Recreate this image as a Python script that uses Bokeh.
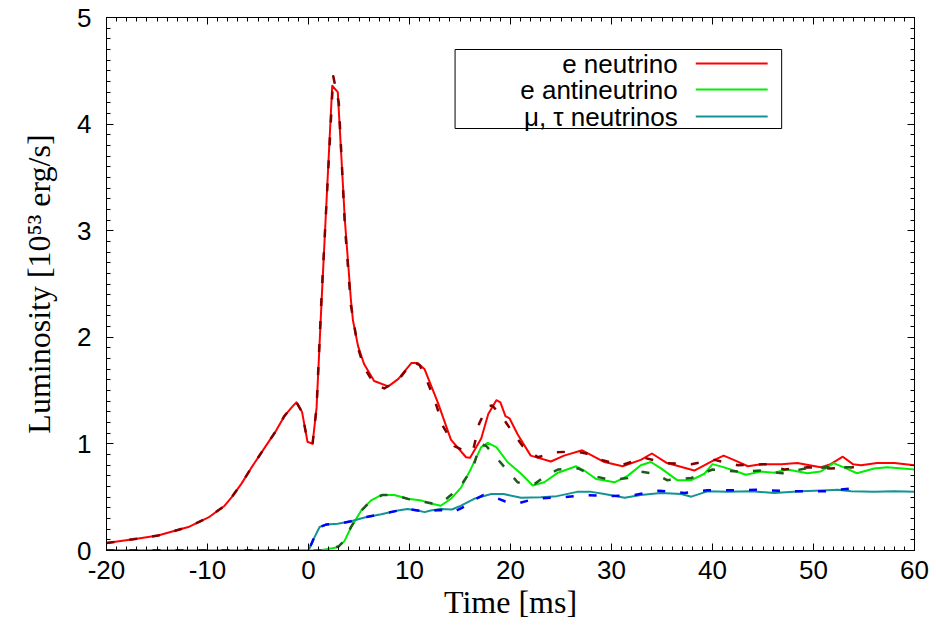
import numpy as np
from bokeh.plotting import figure
from bokeh.models import (LinearAxis, Range1d, BoxAnnotation, Label, Title,
                          SingleIntervalTicker)
from bokeh.embed import file_html
from bokeh.resources import INLINE

# ---------------- data ----------------
# e neutrino (solid)
t_e = [-20, -17, -14.9, -11.9, -9.9, -8.3, -7.6, -6.65, -5.7, -4.3, -3.3, -2.4, -1.6, -1.2,
       -0.64, -0.1, 0.4, 0.8, 1.3, 2.35, 2.9, 3.6, 4.2, 4.4, 4.9, 5.5, 6.5, 7.9, 8.9, 10.2,
       10.8, 11.5, 12.8, 14.1, 15.6, 16.0, 17.1, 17.8, 18.6, 19.0, 19.5, 19.9, 20.7, 22.0,
       24.0, 25.3, 27.1, 29.3, 31.1, 32.9, 34.0, 35.5, 38.2, 40.2, 41.1, 42.1, 43.5, 44.8,
       46.8, 48.4, 50.7, 51.7, 52.9, 53.9, 54.7, 56.3, 58.0, 60.0]
L_e = [0.07, 0.11, 0.14, 0.22, 0.31, 0.42, 0.50, 0.625, 0.77, 0.97, 1.11, 1.26, 1.35, 1.39,
       1.30, 1.02, 1.00, 1.34, 2.35, 4.36, 4.30, 3.10, 2.35, 2.16, 1.92, 1.75, 1.59, 1.54, 1.61, 1.76,
       1.76, 1.70, 1.39, 1.04, 0.875, 0.87, 1.05, 1.28, 1.41, 1.39, 1.26, 1.24, 1.09, 0.89,
       0.835, 0.89, 0.94, 0.83, 0.79, 0.85, 0.91, 0.82, 0.75, 0.85, 0.89, 0.85, 0.79, 0.81,
       0.81, 0.82, 0.78, 0.81, 0.88, 0.81, 0.80, 0.82, 0.82, 0.80]

# e neutrino (dashed comparison)
t_e2 = [-20, -17, -14.9, -11.9, -9.9, -8.3, -7.6, -6.65, -5.7, -4.3, -3.3, -2.4, -1.6, -1.2,
        -0.64, -0.1, 0.4, 0.8, 1.3, 2.45, 3.0, 3.6, 4.2, 4.9, 5.5, 6.5, 7.5, 8.9, 10.3, 11.0,
        11.65, 12.5, 13.3, 14.45, 15.5, 16.3, 16.9, 17.7, 18.2, 19.2, 20.2, 21.2, 22.7, 24.4,
        26.3, 27.5, 29.0, 31.0, 33.2, 35.4, 37.9, 40.2, 42.5, 45.2, 47.1, 49.4, 51.7, 53.7, 54.0]
L_e2 = [0.07, 0.11, 0.14, 0.22, 0.31, 0.42, 0.50, 0.625, 0.77, 0.97, 1.11, 1.26, 1.35, 1.39,
        1.30, 1.02, 1.00, 1.34, 2.40, 4.45, 4.20, 3.05, 2.30, 1.90, 1.72, 1.56, 1.52, 1.60, 1.77, 1.74,
        1.61, 1.41, 1.17, 0.98, 0.93, 0.94, 1.19, 1.35, 1.36, 1.25, 1.11, 0.98, 0.875, 0.92,
        0.93, 0.91, 0.85, 0.80, 0.87, 0.82, 0.81, 0.85, 0.80, 0.81, 0.76, 0.78, 0.77, 0.78, 0.78]

# e antineutrino (solid)
t_a = [-20, 1.0, 1.93, 2.9, 3.57, 4.23, 5.22, 6.2, 7.2, 8.5, 9.84, 11.16, 12.1, 13.1, 14.1,
       15.1, 16.1, 17.1, 17.75, 18.6, 19.7, 21.05, 22.2, 23.35, 24.7, 26.5, 27.3, 28.5, 30.3,
       31.6, 32.9, 33.9, 34.9, 36.5, 37.9, 39.2, 40.0, 41.15, 42.1, 43.3, 44.8, 46.1, 47.4,
       49.4, 50.7, 52.0, 53.0, 54.3, 56.0, 57.3, 60.0]
L_a = [0.0, 0.0, 0.015, 0.03, 0.09, 0.22, 0.375, 0.47, 0.52, 0.52, 0.485, 0.47, 0.44, 0.42, 0.485,
       0.59, 0.77, 0.97, 1.01, 0.97, 0.83, 0.72, 0.61, 0.64, 0.73, 0.79, 0.75, 0.67, 0.64,
       0.70, 0.80, 0.83, 0.77, 0.66, 0.66, 0.72, 0.81, 0.78, 0.75, 0.71, 0.74, 0.73, 0.76,
       0.725, 0.74, 0.82, 0.78, 0.725, 0.77, 0.78, 0.76]

# e antineutrino (dashed comparison)
t_a2 = [-20, 1.0, 2.0, 3.0, 3.6, 4.2, 5.2, 6.2, 7.3, 8.5, 10.0, 11.2, 12.3, 13.2, 14.1, 14.95,
        16.3, 17.0, 17.6, 18.7, 19.7, 20.7, 21.5, 22.4, 23.5, 24.7, 26.7, 28.2, 30.0, 31.6,
        32.9, 34.3, 35.5, 37.9, 40.0, 42.5, 44.8, 46.9, 49.2, 51.4, 53.6, 54.0]
L_a2 = [0.0, 0.0, 0.01, 0.04, 0.10, 0.22, 0.37, 0.47, 0.52, 0.52, 0.48, 0.46, 0.44, 0.45, 0.52, 0.59,
        0.78, 1.00, 0.98, 0.86, 0.75, 0.64, 0.62, 0.625, 0.70, 0.76, 0.77, 0.70, 0.66, 0.68,
        0.74, 0.72, 0.66, 0.68, 0.76, 0.74, 0.75, 0.725, 0.77, 0.78, 0.78, 0.78]

# mu, tau neutrinos (solid)
t_x = [-20, 0.0, 0.6, 1.1, 1.76, 2.9, 4.23, 5.55, 7.2, 8.85, 9.8, 10.8, 11.5, 12.1, 13.1, 14.2,
       15.1, 16.4, 18.1, 19.3, 21.05, 23.0, 24.6, 26.6, 28.0, 29.3, 31.3, 32.9, 34.9, 36.9,
       37.9, 39.5, 41.5, 43.8, 46.1, 48.8, 51.4, 52.4, 53.7, 56.0, 58.0, 60.0]
L_x = [0.0, 0.0, 0.125, 0.22, 0.245, 0.25, 0.275, 0.31, 0.34, 0.375, 0.39, 0.375, 0.36, 0.375, 0.39, 0.385,
       0.42, 0.485, 0.53, 0.53, 0.495, 0.50, 0.51, 0.55, 0.55, 0.53, 0.495, 0.52, 0.54, 0.53,
       0.505, 0.555, 0.55, 0.555, 0.54, 0.555, 0.565, 0.57, 0.555, 0.55, 0.555, 0.55]

# mu, tau neutrinos (dashed comparison)
t_x2 = [-20, 0.0, 0.6, 1.1, 1.8, 3.0, 4.2, 5.5, 7.2, 8.9, 9.8, 10.8, 12.0, 13.1, 14.3, 15.2,
        16.3, 17.3, 18.4, 19.5, 20.7, 21.8, 23.0, 25.3, 27.6, 29.9, 32.2, 34.7, 37.2, 39.5,
        41.8, 44.3, 46.6, 48.8, 51.2, 53.5, 54.0]
L_x2 = [0.0, 0.0, 0.13, 0.22, 0.245, 0.25, 0.275, 0.31, 0.34, 0.375, 0.39, 0.375, 0.37, 0.38, 0.36, 0.40,
        0.47, 0.52, 0.50, 0.46, 0.44, 0.47, 0.49, 0.50, 0.52, 0.51, 0.52, 0.56, 0.54, 0.565,
        0.565, 0.57, 0.56, 0.555, 0.555, 0.58, 0.58]

x_ticks = [-20, -10, 0, 10, 20, 30, 40, 50, 60]
x_tick_labels = ["-20", "-10", "0", "10", "20", "30", "40", "50", "60"]
legend_labels = ["e neutrino", "e antineutrino", "\u03bc, \u03c4 neutrinos"]
x_label = "Time [ms]"
y_label = "Luminosity [10\u2075\u00b3 erg/s]"

# ---------------- styling ----------------
C_RED, C_GREEN, C_TEAL = "#ff0000", "#00ee00", "#139393"
C_DRED, C_DGREEN, C_BLUE = "#800000", "#1e5a1e", "#0000ff"

W, H = 936, 635
FL, FR, FT, FB = 105, 914, 17, 550   # frame edges in pixels
X0, X1, Y0, Y1 = -20, 60, 0, 5


def dx(px):
    return X0 + (px - FL) * (X1 - X0) / (FR - FL)


def dy(py):
    return Y0 + (FB - py) * (Y1 - Y0) / (FB - FT)


p = figure(width=W, height=H, x_range=Range1d(X0, X1), y_range=Range1d(Y0, Y1),
           output_backend="svg", toolbar_location=None,
           min_border_left=FL, min_border_right=W - FR,
           min_border_top=FT, min_border_bottom=H - FB)
p.background_fill_color = "white"
p.border_fill_color = "white"
p.outline_line_color = "black"
p.outline_line_width = 1
p.xgrid.visible = False
p.ygrid.visible = False

bottom = p.xaxis[0]
left = p.yaxis[0]
xt = SingleIntervalTicker(interval=10, num_minor_ticks=10)
yt = SingleIntervalTicker(interval=1, num_minor_ticks=10)
bottom.ticker = xt
left.ticker = yt
top = LinearAxis(ticker=xt)
right = LinearAxis(ticker=yt)
p.add_layout(top, "above")
p.add_layout(right, "right")

for ax in [bottom, left, top, right]:
    ax.major_tick_in = 7
    ax.major_tick_out = 0
    ax.minor_tick_in = 4
    ax.minor_tick_out = 0
    ax.axis_line_color = "black"
    ax.major_tick_line_color = "black"
    ax.minor_tick_line_color = "black"
    ax.major_label_text_font = "Liberation Sans"
    ax.major_label_text_font_size = "26px"
    ax.major_label_text_color = "black"

for ax in [top, right]:
    ax.major_label_text_font_size = "1px"
    ax.major_label_text_alpha = 0
    ax.major_label_standoff = 0

bottom.major_label_overrides = {t: s for t, s in zip(x_ticks, x_tick_labels)}
bottom.major_label_standoff = 10
left.major_label_standoff = 15

bottom.axis_label = x_label
bottom.axis_label_text_font = "Liberation Serif"
bottom.axis_label_text_font_style = "normal"
bottom.axis_label_text_font_size = "32px"
bottom.axis_label_text_color = "black"
bottom.axis_label_standoff = 2

# y label as a side title so it can be shifted up like the reference
p.add_layout(Title(text=y_label, align="center", offset=18, standoff=36,
                   text_font="Liberation Serif", text_font_style="normal",
                   text_font_size="32px", text_color="black"), "left")

# ---------------- curves ----------------
solid = [(t_e, L_e, C_RED), (t_a, L_a, C_GREEN), (t_x, L_x, C_TEAL)]
dashed = [(t_e2, L_e2, C_DRED), (t_a2, L_a2, C_DGREEN), (t_x2, L_x2, C_BLUE)]
for t, v, c in solid:
    p.line(x=t, y=v, line_color=c, line_width=2, line_join="round")
for t, v, c in dashed:
    p.line(x=t, y=v, line_color=c, line_width=2.5, line_dash="8 15", line_join="round")

# ---------------- legend (gnuplot style: text, then sample line) ----------------
p.add_layout(BoxAnnotation(left=dx(454), right=dx(781), top=dy(49), bottom=dy(128),
                           fill_color="white", fill_alpha=1, line_color="black",
                           line_width=1, line_alpha=1))
rows = [63, 89, 116]
for lab, (_, _, c), ry in zip(legend_labels, solid, rows):
    p.add_layout(Label(x=dx(677), y=dy(ry), text=lab, text_align="right",
                       text_baseline="middle", text_font="Liberation Sans",
                       text_font_size="26px", text_color="black"))
    p.add_layout(BoxAnnotation(left=dx(695), right=dx(767), top=dy(ry - 1), bottom=dy(ry + 1),
                               fill_color=c, fill_alpha=1, line_color=None))

open("out.html", "w").write(file_html(p, INLINE))
